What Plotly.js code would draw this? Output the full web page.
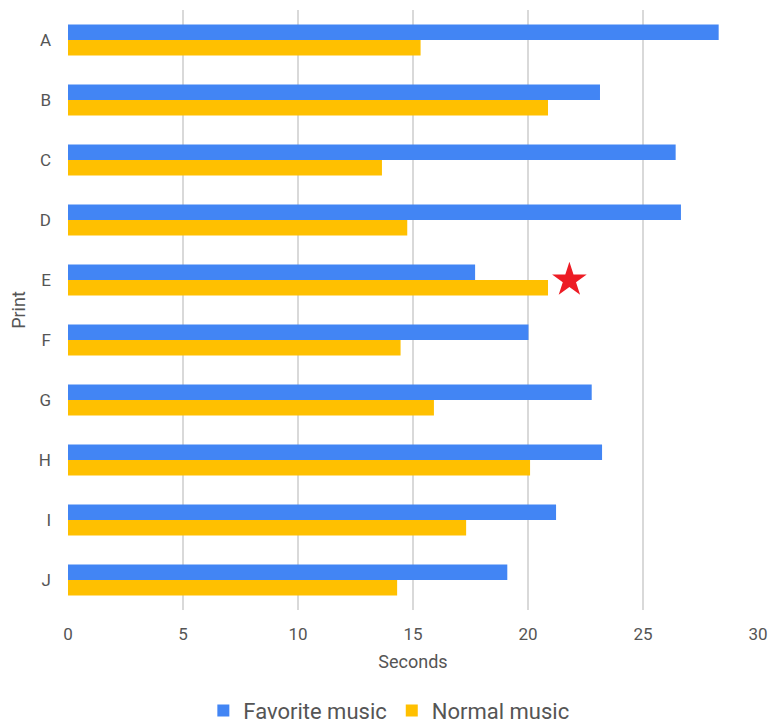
<!DOCTYPE html>
<html>
<head>
<meta charset="utf-8">
<script src="https://cdn.plot.ly/plotly-3.0.1.min.js"></script>
<style>html,body{margin:0;padding:0;background:#fff;}#chart{width:770px;height:724px;}</style>
</head>
<body>
<div id="chart"></div>
<script>
const categories = ['A','B','C','D','E','F','G','H','I','J'];
const favoriteMusic = [28.29, 23.13, 26.42, 26.65, 17.70, 20.02, 22.77, 23.22, 21.22, 19.10];
const normalMusic = [15.33, 20.87, 13.65, 14.75, 20.87, 14.46, 15.91, 20.09, 17.31, 14.31];
const starX = [21.8];
const starY = ['E'];
const xTicks = [0, 5, 10, 15, 20, 25, 30];

const traces = [
  {type:'bar', orientation:'h', name:'Favorite music', x:favoriteMusic, y:categories,
   marker:{color:'#4285F4'}, hoverinfo:'x+y'},
  {type:'bar', orientation:'h', name:'Normal music', x:normalMusic, y:categories,
   marker:{color:'#FFC000'}, hoverinfo:'x+y'},
  {type:'scatter', mode:'markers', x:starX, y:starY, showlegend:false,
   marker:{symbol:'star', size:26, color:'#ED1C24', line:{width:0}}}
];

const layout = {
  width:770, height:724,
  margin:{l:68, r:12, t:10, b:114, autoexpand:false},
  paper_bgcolor:'#fff', plot_bgcolor:'#fff',
  barmode:'group', bargap:0.48, bargroupgap:0,
  font:{family:'Roboto, Arial, sans-serif', color:'#555', size:17},
  xaxis:{range:[0,30], tickvals:xTicks, showgrid:true, gridcolor:'#d9d9d9', gridwidth:1.5,
         zeroline:false, showline:false, ticks:'', ticklabelstandoff:12, tickfont:{size:17, color:'#555'},
         title:{text:'Seconds', font:{size:18, color:'#555'}, standoff:12}},
  yaxis:{type:'category', autorange:'reversed', showgrid:false, zeroline:false, showline:false,
         ticks:'', ticklabelstandoff:16, tickfont:{size:17, color:'#555'},
         title:{text:'Print', font:{size:18, color:'#555'}, standoff:8}},
  legend:{orientation:'h', xref:'container', x:0.505, xanchor:'center', y:-0.133, yanchor:'top',
          font:{size:22, color:'#555'}, itemwidth:30, traceorder:'normal'},
  showlegend:true
};

Plotly.newPlot('chart', traces, layout, {displayModeBar:false, staticPlot:true});
</script>
</body>
</html>
